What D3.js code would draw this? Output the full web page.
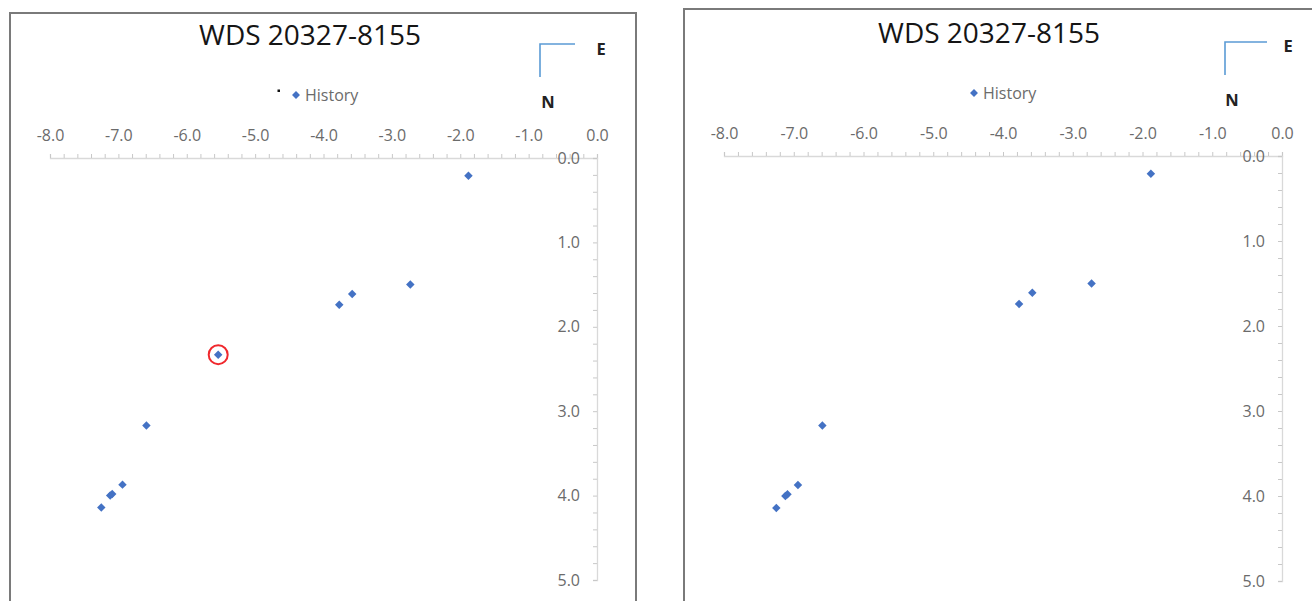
<!DOCTYPE html>
<html>
<head>
<meta charset="utf-8">
<script src="https://cdn.jsdelivr.net/npm/d3@7"></script>
<style>
  body { margin: 0; background: #fff; }
  text { font-family: "Open Sans", Carlito, Lato, sans-serif; }
</style>
</head>
<body>
<div id="Vis"></div>
<script>
// chart data
var title = "WDS 20327-8155";
var seriesName = "History";
var histX = [-1.88, -2.73, -3.58, -3.77, -6.59, -6.94, -7.12, -7.09, -7.25];
var histY = [0.21, 1.50, 1.61, 1.74, 3.17, 3.87, 4.00, 3.98, 4.14];
var outlierX = [-5.54];
var outlierY = [2.33];
var xTicks = [-8, -7, -6, -5, -4, -3, -2, -1, 0];
var yTicks = [0, 1, 2, 3, 4, 5];

var W = 1312, H = 601;
var svg = d3.select("#Vis").append("svg")
    .attr("width", W)
    .attr("height", H);

var blue = "#4472c4";
// excel style labels use a plain hyphen
var fmt = function(v) { return d3.format(".1f")(v).replace("\u2212", "-"); };

// one panel = one chart
function drawPanel(p) {
  var g = svg.append("g");

  // frame
  g.append("rect")
    .attr("x", p.frame[0]).attr("y", p.frame[1])
    .attr("width", p.frame[2]).attr("height", p.frame[3])
    .attr("fill", "#fff")
    .attr("stroke", "#7a7a7a")
    .attr("stroke-width", 2);

  var x = d3.scaleLinear().domain([-8, 0]).range([p.x0, p.x1]);
  var y = d3.scaleLinear().domain([0, 5]).range([p.y0, p.y1]);

  var minor = d3.range(0, 41).map(function(i) { return -8 + i * 0.2; });
  var minorY = d3.range(0, 26).map(function(i) { return i * 0.2; });
  var isMajor = function(v) { return Math.abs(v - Math.round(v)) < 1e-6; };

  // x axis along the top
  var xa = g.append("g")
    .attr("transform", "translate(0," + p.y0 + ")")
    .call(d3.axisTop(x).tickValues(minor).tickSize(4).tickPadding(13)
      .tickFormat(function(d) { return isMajor(d) && xTicks.indexOf(Math.round(d)) >= 0 ? fmt(d) : ""; }));
  // y axis on the right, labels on its left
  var ya = g.append("g")
    .attr("transform", "translate(" + p.x1 + ",0)")
    .call(d3.axisLeft(y).tickValues(minorY).tickSize(4).tickPadding(13)
      .tickFormat(function(d) { return isMajor(d) && yTicks.indexOf(Math.round(d)) >= 0 ? fmt(d) : ""; }));

  [xa, ya].forEach(function(a) {
    a.attr("font-family", null);
    a.select(".domain").attr("stroke", "#d9d9d9").attr("stroke-width", 1.3);
    a.selectAll(".tick line").attr("stroke", "#c8c8c8");
    a.selectAll(".tick text")
      .attr("fill", "#6b6b6b")
      .attr("font-size", "16px");
  });

  // title
  g.append("text")
    .attr("x", p.titleX).attr("y", p.titleY)
    .attr("text-anchor", "middle")
    .attr("font-size", "28px")
    .attr("fill", "#151515")
    .text(title);

  // E / N orientation marker
  g.append("path")
    .attr("d", "M" + p.en[2] + "," + p.en[1] + "H" + p.en[0] + "V" + p.en[3])
    .attr("fill", "none")
    .attr("stroke", "#5b9bd5")
    .attr("stroke-width", 1.6);
  g.append("text").attr("x", p.eLab[0]).attr("y", p.eLab[1])
    .attr("font-size", "16.5px").attr("font-weight", "bold").attr("fill", "#222")
    .attr("text-anchor", "middle").text("E");
  g.append("text").attr("x", p.nLab[0]).attr("y", p.nLab[1])
    .attr("font-size", "16.5px").attr("font-weight", "bold").attr("fill", "#222")
    .attr("text-anchor", "middle").text("N");

  // legend
  var lg = g.append("g").attr("transform", "translate(" + p.leg[0] + "," + p.leg[1] + ")");
  if (p.blackDot) {
    lg.append("rect").attr("x", -18.5).attr("y", -5.5).attr("width", 2.5).attr("height", 2.5).attr("fill", "#111");
  }
  lg.append("path")
    .attr("d", d3.symbol(d3.symbolDiamond2, 40))
    .attr("fill", blue);
  lg.append("text").attr("x", 9).attr("y", 5.5)
    .attr("font-size", "16px").attr("fill", "#6b6b6b")
    .text(seriesName);

  // points
  var pts = histX.map(function(v, i) { return { x: v, y: histY[i] }; });
  if (p.withOutlier) {
    outlierX.forEach(function(v, i) { pts.push({ x: v, y: outlierY[i], circled: true }); });
  }
  g.selectAll(".pt").data(pts).enter().append("path")
    .attr("class", "pt")
    .attr("transform", function(d) { return "translate(" + x(d.x) + "," + y(d.y) + ")"; })
    .attr("d", d3.symbol(d3.symbolDiamond2, 46))
    .attr("fill", blue);

  g.selectAll(".ring").data(pts.filter(function(d) { return d.circled; })).enter().append("circle")
    .attr("class", "ring")
    .attr("cx", function(d) { return x(d.x); })
    .attr("cy", function(d) { return y(d.y); })
    .attr("r", 9.5)
    .attr("fill", "none")
    .attr("stroke", "#f0282d")
    .attr("stroke-width", 2);
}

drawPanel({
  frame: [10, 13, 626, 620],
  x0: 50, x1: 597, y0: 158, y1: 580,
  titleX: 310, titleY: 45,
  en: [540, 44, 575, 77], eLab: [601, 55], nLab: [548, 108],
  leg: [296, 95], blackDot: true,
  withOutlier: true
});

drawPanel({
  frame: [684, 9, 660, 620],
  x0: 724, x1: 1282, y0: 156, y1: 581,
  titleX: 989, titleY: 43,
  en: [1225, 42, 1267, 75], eLab: [1288, 52], nLab: [1232, 106],
  leg: [974, 93], blackDot: false,
  withOutlier: false
});
</script>
</body>
</html>
